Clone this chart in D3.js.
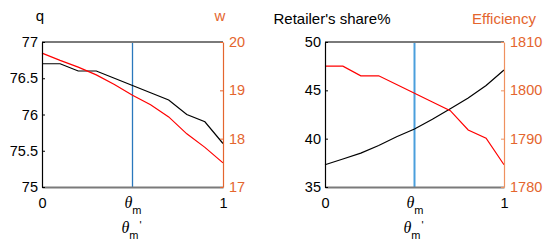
<!DOCTYPE html>
<html>
<head>
<meta charset="utf-8">
<script src="https://cdn.jsdelivr.net/npm/d3@7"></script>
<style>
  body { margin: 0; background: #fff; }
  text { font-family: "Liberation Sans", Arial, sans-serif; }
</style>
</head>
<body>
<div id="chart"></div>
<script>
// x positions (theta_m')
const xs = [0, 0.1, 0.2, 0.3, 0.4, 0.5, 0.6, 0.7, 0.8, 0.9, 1.0];
const thetaM = 0.5;

// left panel
const qValues = [76.7, 76.7, 76.6, 76.6, 76.5, 76.4, 76.3, 76.2, 76.0, 75.9, 75.6];
const wValues = [19.77, 19.62, 19.48, 19.32, 19.12, 18.9, 18.7, 18.45, 18.1, 17.82, 17.5];
const qTicks = [75, 75.5, 76, 76.5, 77];
const wTicks = [17, 18, 19, 20];

// right panel
const shareValues = [37.3, 37.9, 38.5, 39.3, 40.2, 41.0, 42.0, 43.1, 44.2, 45.5, 47.1];
const effValues = [1805, 1805, 1803, 1803, 1801.2, 1799.4, 1797.6, 1795.8, 1791.8, 1790.1, 1784.6];
const shareTicks = [35, 40, 45, 50];
const effTicks = [1780, 1790, 1800, 1810];

const orange = '#e4652e';

const svg = d3.select('#chart')
  .append('svg')
    .attr('width', 550)
    .attr('height', 251);

function drawPanel(p) {
  const x = d3.scaleLinear().domain([0, 1]).range([p.left, p.right]);
  const yL = d3.scaleLinear().domain(d3.extent(p.leftTicks)).range([187, 42]);
  const yR = d3.scaleLinear().domain(d3.extent(p.rightTicks)).range([187, 42]);

  const g = svg.append('g');

  // theta_m marker
  g.append('line')
    .attr('x1', x(thetaM)).attr('x2', x(thetaM))
    .attr('y1', yL.range()[0]).attr('y2', yL.range()[1])
    .attr('stroke', p.blue)
    .attr('stroke-width', p.blueWidth);

  // series
  const lineL = d3.line().x((d, i) => x(xs[i])).y(d => yL(d));
  const lineR = d3.line().x((d, i) => x(xs[i])).y(d => yR(d));

  g.append('path')
    .datum(p.leftValues)
    .attr('d', lineL)
    .attr('fill', 'none')
    .attr('stroke', '#000')
    .attr('stroke-width', 1.2);

  g.append('path')
    .datum(p.rightValues)
    .attr('d', lineR)
    .attr('fill', 'none')
    .attr('stroke', '#ff0000')
    .attr('stroke-width', 1.2);

  // top edge
  g.append('line')
    .attr('x1', p.left).attr('x2', p.right)
    .attr('y1', 42).attr('y2', 42)
    .attr('stroke', '#7a7a7a')
    .attr('stroke-width', 2);

  // bottom axis
  const xAxis = g.append('g')
    .attr('transform', `translate(0,187)`)
    .call(d3.axisBottom(x).tickValues([0, thetaM, 1]).tickSize(0).tickPadding(0));
  xAxis.select('.domain').attr('stroke', '#7a7a7a').attr('stroke-width', 2);
  xAxis.selectAll('.tick text').each(function(d) {
    const t = d3.select(this).text('')
      .attr('y', 20.5).attr('dy', null)
      .attr('fill', '#000')
      .attr('font-size', 14.5);
    if (d === thetaM) {
      t.append('tspan').text('θ')
        .attr('font-family', '"Liberation Serif", serif')
        .attr('font-style', 'italic')
        .attr('font-size', 16);
      t.append('tspan').text('m').attr('font-size', 11).attr('dy', 6);
    } else {
      t.text(d);
    }
  });

  // x label
  const xl = g.append('text')
    .attr('x', x(thetaM) - 1)
    .attr('y', 233)
    .attr('text-anchor', 'middle')
    .attr('font-size', 14);
  xl.append('tspan').text('θ')
    .attr('font-family', '"Liberation Serif", serif')
    .attr('font-style', 'italic')
    .attr('font-size', 16);
  xl.append('tspan').text('m').attr('font-size', 11).attr('dy', 6);
  xl.append('tspan').text("'").attr('font-size', 11).attr('dy', -10).attr('dx', 1);

  const fmt = d => String(d);

  // left axis
  const axL = g.append('g')
    .attr('transform', `translate(${p.left},0)`)
    .call(d3.axisLeft(yL).tickValues(p.leftTicks).tickFormat(fmt)
      .tickSizeInner(-3).tickSizeOuter(0).tickPadding(4));
  axL.select('.domain').attr('stroke', '#000').attr('stroke-width', 1.2);
  axL.selectAll('.tick line').attr('stroke', '#000');
  axL.selectAll('.tick text').attr('font-size', 14.5).attr('fill', '#000')
    .attr('font-family', '"Liberation Sans", Arial, sans-serif');

  // right axis
  const axR = g.append('g')
    .attr('transform', `translate(${p.right},0)`)
    .call(d3.axisRight(yR).tickValues(p.rightTicks).tickFormat(fmt)
      .tickSizeInner(-3).tickSizeOuter(0).tickPadding(6));
  axR.select('.domain').attr('stroke', p.rightAxisColor).attr('stroke-width', 1.2);
  axR.selectAll('.tick line').attr('stroke', p.rightAxisColor);
  axR.selectAll('.tick text').attr('font-size', 14.5).attr('fill', orange)
    .attr('font-family', '"Liberation Sans", Arial, sans-serif');

  // axis titles
  g.append('text')
    .attr('x', p.left + p.leftTitleDx)
    .attr('y', p.titleY)
    .attr('text-anchor', 'middle')
    .attr('font-size', 15)
    .attr('fill', '#000')
    .text(p.leftTitle);
  g.append('text')
    .attr('x', p.right + p.rightTitleDx)
    .attr('y', p.titleY)
    .attr('text-anchor', 'middle')
    .attr('font-size', 15)
    .attr('fill', orange)
    .text(p.rightTitle);
}

drawPanel({
  left: 42, right: 223,
  leftValues: qValues, rightValues: wValues,
  leftTicks: qTicks, rightTicks: wTicks,
  leftTitle: 'q', rightTitle: 'w',
  leftTitleDx: -2, rightTitleDx: -3, titleY: 21,
  blue: '#2a78bd', blueWidth: 1.3,
  rightAxisColor: orange
});

drawPanel({
  left: 325, right: 504,
  leftValues: shareValues, rightValues: effValues,
  leftTicks: shareTicks, rightTicks: effTicks,
  leftTitle: "Retailer's share%", rightTitle: 'Efficiency',
  leftTitleDx: 7, rightTitleDx: 0, titleY: 24,
  blue: '#4a9fdc', blueWidth: 2,
  rightAxisColor: '#ef915f'
});
</script>
</body>
</html>
